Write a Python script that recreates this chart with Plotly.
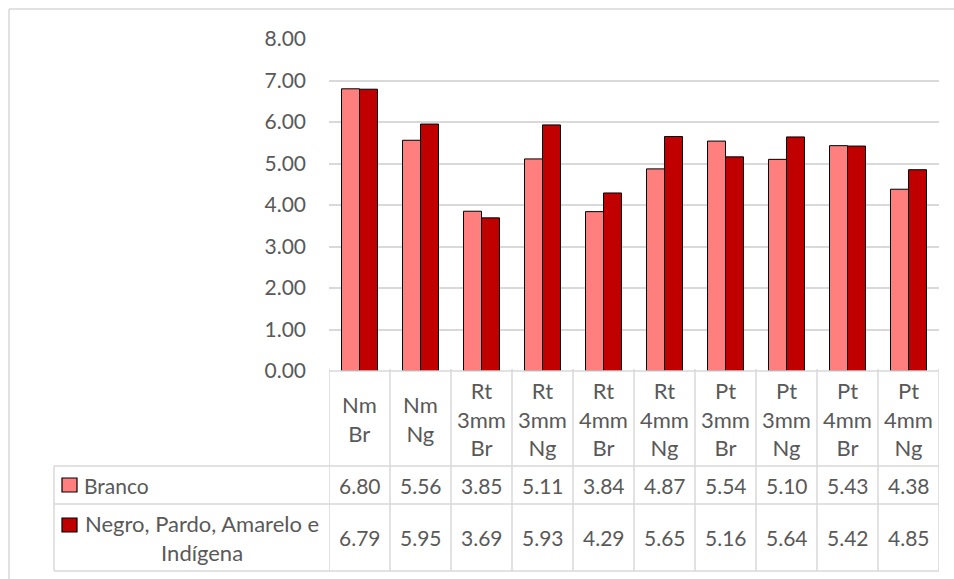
import plotly.graph_objects as go

# Categories and series values
categories = ["Nm Br", "Nm Ng", "Rt 3mm Br", "Rt 3mm Ng", "Rt 4mm Br",
              "Rt 4mm Ng", "Pt 3mm Br", "Pt 3mm Ng", "Pt 4mm Br", "Pt 4mm Ng"]
branco = [6.80, 5.56, 3.85, 5.11, 3.84, 4.87, 5.54, 5.10, 5.43, 4.38]
negro = [6.79, 5.95, 3.69, 5.93, 4.29, 5.65, 5.16, 5.64, 5.42, 4.85]
series_names = ["Branco", "Negro, Pardo, Amarelo e Indígena"]
y_ticks = [0, 1, 2, 3, 4, 5, 6, 7, 8]

W, H = 954, 579
FONT = "Lato"
TXT = "#595959"
GRID = "#D9D9D9"
C_BR = "#FF7F7F"
C_NG = "#C00000"


def px(x):
    return x / W


def py(y):
    return 1 - y / H


fig = go.Figure()
fig.add_trace(go.Bar(x=categories, y=branco, name=series_names[0],
                     marker=dict(color=C_BR, line=dict(color="black", width=1))))
fig.add_trace(go.Bar(x=categories, y=negro, name=series_names[1],
                     marker=dict(color=C_NG, line=dict(color="black", width=1))))

shapes = []
annotations = []

# Outer chart frame
shapes.append(dict(type="line", xref="paper", yref="paper", x0=px(9), x1=1.0,
                   y0=py(9), y1=py(9), line=dict(color=GRID, width=1.5)))
shapes.append(dict(type="line", xref="paper", yref="paper", x0=px(9), x1=px(9),
                   y0=py(9), y1=0.0, line=dict(color=GRID, width=1.5)))

# Data table grid
TOP, CAT_BOT, ROW1_BOT, ROW2_BOT = 371, 466, 504, 571
LEG_L, TAB_L, TAB_R = 54, 329, 939
tline = dict(color=GRID, width=1.5)
shapes.append(dict(type="line", xref="paper", yref="paper", x0=px(TAB_L), x1=px(TAB_R),
                   y0=py(TOP), y1=py(TOP), line=tline))
for yy in (CAT_BOT, ROW1_BOT, ROW2_BOT):
    shapes.append(dict(type="line", xref="paper", yref="paper", x0=px(LEG_L), x1=px(TAB_R),
                       y0=py(yy), y1=py(yy), line=tline))
shapes.append(dict(type="line", xref="paper", yref="paper", x0=px(LEG_L), x1=px(LEG_L),
                   y0=py(CAT_BOT), y1=py(ROW2_BOT), line=tline))
for i in range(len(categories) + 1):
    shapes.append(dict(type="line", xref="x", yref="paper", x0=i - 0.5, x1=i - 0.5,
                       y0=py(TOP - 2), y1=py(ROW2_BOT), line=tline))

# Category labels and values in the table
for i, cat in enumerate(categories):
    annotations.append(dict(xref="x", yref="paper", x=cat, y=py((TOP + CAT_BOT) / 2),
                            text="<br>".join(cat.split(" ")), showarrow=False,
                            xanchor="center", yanchor="middle", align="center",
                            font=dict(family=FONT, size=22, color=TXT)))
    annotations.append(dict(xref="x", yref="paper", x=cat, y=py((CAT_BOT + ROW1_BOT) / 2),
                            text=f"{branco[i]:.2f}", showarrow=False,
                            xanchor="center", yanchor="middle",
                            font=dict(family=FONT, size=21, color=TXT)))
    annotations.append(dict(xref="x", yref="paper", x=cat, y=py(537),
                            text=f"{negro[i]:.2f}", showarrow=False,
                            xanchor="center", yanchor="middle",
                            font=dict(family=FONT, size=21, color=TXT)))

# Legend keys in the table
for (y0, y1, col) in ((478, 492, C_BR), (518, 532, C_NG)):
    shapes.append(dict(type="rect", xref="paper", yref="paper", x0=px(62), x1=px(77),
                       y0=py(y0), y1=py(y1), fillcolor=col,
                       line=dict(color="black", width=1.2)))
annotations.append(dict(xref="paper", yref="paper", x=px(82), y=py(485),
                        text=series_names[0], showarrow=False,
                        xanchor="left", yanchor="middle",
                        font=dict(family=FONT, size=21, color=TXT)))
annotations.append(dict(xref="paper", yref="paper", x=px(202), y=py(538),
                        text="Negro, Pardo, Amarelo e<br>Indígena", showarrow=False,
                        xanchor="center", yanchor="middle", align="center",
                        font=dict(family=FONT, size=22, color=TXT)))

fig.update_layout(
    template="none",
    width=W, height=H,
    margin=dict(l=0, r=0, t=0, b=0, pad=0, autoexpand=False),
    paper_bgcolor="white", plot_bgcolor="white",
    barmode="group", bargap=0.41, bargroupgap=0,
    showlegend=False,
    shapes=shapes, annotations=annotations,
    xaxis=dict(domain=[px(TAB_L), px(TAB_R)], showticklabels=False, showgrid=False,
               zeroline=False, showline=False, ticks="", automargin=False,
               range=[-0.5, len(categories) - 0.5]),
    yaxis=dict(domain=[py(371), py(39)], range=[0, 8], tickvals=y_ticks,
               tickformat=".2f", showgrid=True, gridcolor=GRID, gridwidth=1.5,
               zeroline=False, showline=False, ticks="", ticklabelstandoff=22,
               automargin=False,
               tickfont=dict(family=FONT, size=21, color=TXT)),
)

fig.write_html("out.html")
